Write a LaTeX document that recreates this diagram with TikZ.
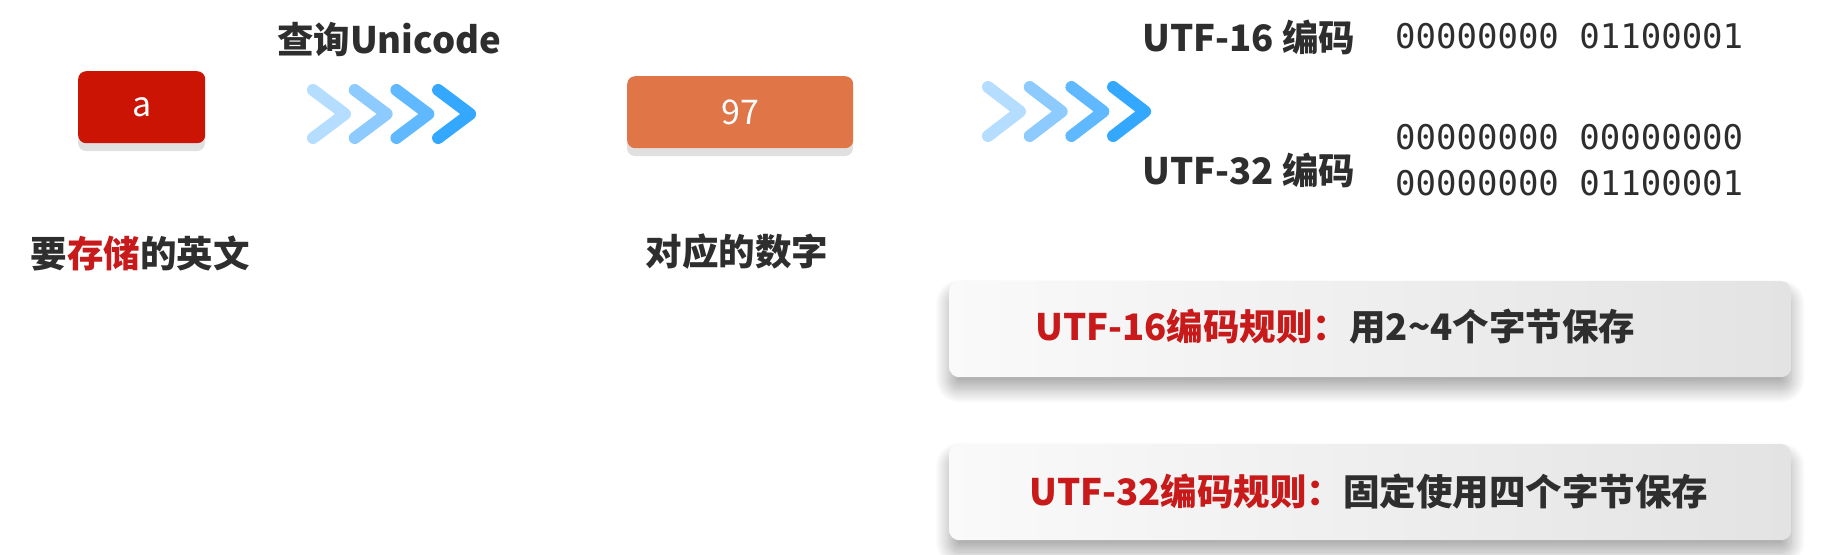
\documentclass[tikz,border=0pt]{standalone}
\usepackage{fontspec}
\usetikzlibrary{shadows.blur}
\newfontfamily\cjk{Noto Sans CJK SC}
\newfontfamily\mono{DejaVu Sans Mono}
\definecolor{redbox}{HTML}{CC1405}
\definecolor{orangebox}{HTML}{E07548}
\definecolor{darktext}{HTML}{2E2E2E}
\definecolor{redtext}{HTML}{C81A1A}
\definecolor{chA}{HTML}{B5DDFF}
\definecolor{chB}{HTML}{8DCBFF}
\definecolor{chC}{HTML}{60B9FF}
\definecolor{chD}{HTML}{34A7FF}
\tikzset{
  label/.style={font=\cjk\bfseries\fontsize{36.5}{42}\selectfont, text=darktext, inner sep=0pt},
  bin/.style={font=\mono\fontsize{34}{40}\selectfont, text=darktext, inner sep=0pt, anchor=west},
  valbox/.style={rounded corners=8pt, minimum width=127pt, minimum height=72pt, inner sep=0pt,
     text=white, font=\cjk\fontsize{34}{38}\selectfont},
  rulebox/.style={rounded corners=10pt, minimum width=842pt, minimum height=96pt, inner sep=0pt,
     left color=white!98!black, right color=white!89!black,
     blur shadow={shadow xshift=0pt, shadow yshift=-12pt, shadow blur radius=14pt, shadow blur steps=20, shadow opacity=35}},
  chev/.style={line width=12pt, line cap=round, line join=round},
}
\begin{document}
\begin{tikzpicture}[x=1pt,y=-1pt]
\useasboundingbox (0,0) rectangle (1833,554);
% value boxes with shadows
\fill[black!12, rounded corners=8pt] (78,79) rectangle (205,151);
\node[valbox, fill=redbox, anchor=north west] (a) at (78,71) {a};
\fill[black!12, rounded corners=8pt] (627,84) rectangle (853,156);
\node[valbox, fill=orangebox, minimum width=226pt, anchor=north west] (n97) at (627,76) {97};
% labels
\node[label] (q) at (389,40) {查询Unicode};
\node[label] (s) at (140,253) {要\textcolor{redtext}{存储}的英文};
\node[label] (d) at (737,252) {对应的数字};
\node[label, anchor=west] (u16) at (1142,37) {UTF-16 编码};
\node[label, anchor=west] (u32) at (1142,170) {UTF-32 编码};
\node[bin] (b1) at (1395,36) {00000000 01100001};
\node[bin] (b2) at (1395,137) {00000000 00000000};
\node[bin] (b3) at (1395,183) {00000000 01100001};
% chevrons 1
\foreach \i/\c in {0/chA,1/chB,2/chC,3/chD}{
  \draw[chev, \c] (313+41.7*\i,90) -- (345+41.7*\i,114) -- (313+41.7*\i,138);
}
% chevrons 2
\foreach \i/\c in {0/chA,1/chB,2/chC,3/chD}{
  \draw[chev, \c] (988+41.7*\i,87) -- (1020+41.7*\i,111.5) -- (988+41.7*\i,136);
}
% rule boxes
\node[rulebox, anchor=north west] (r1) at (949,281) {};
\node[label, anchor=west] (t1) at (1035,327) {\textcolor{redtext}{UTF-16编码规则：}用2\char"007E 4个字节保存};
\node[rulebox, anchor=north west] (r2) at (949,444) {};
\node[label, anchor=west] (t2) at (1029,491) {\textcolor{redtext}{UTF-32编码规则：}固定使用四个字节保存};
\end{tikzpicture}
\end{document}
